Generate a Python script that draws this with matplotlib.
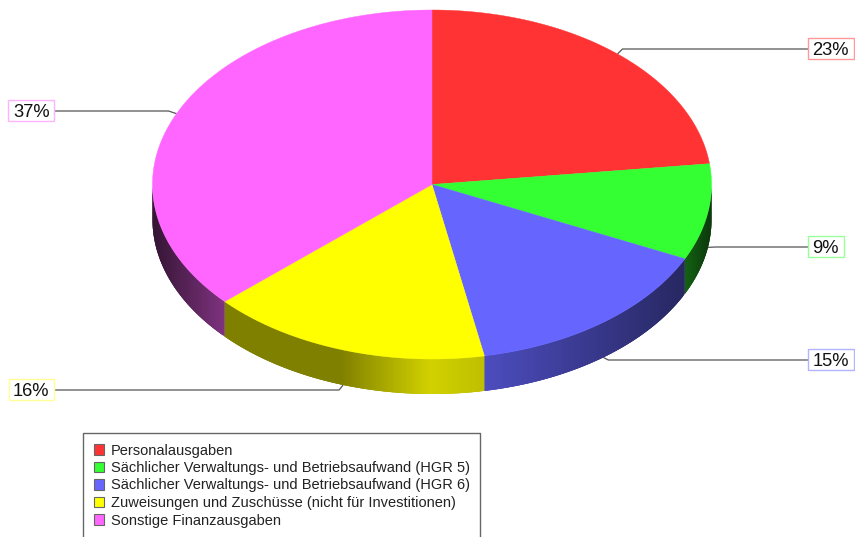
import numpy as np
import matplotlib
matplotlib.use('Agg')
import matplotlib.pyplot as plt
from matplotlib.patches import Patch, Polygon, Rectangle

plt.rcParams['font.family'] = ['Liberation Sans', 'DejaVu Sans']

categories = ['Personalausgaben',
              'Sächlicher Verwaltungs- und Betriebsaufwand (HGR 5)',
              'Sächlicher Verwaltungs- und Betriebsaufwand (HGR 6)',
              'Zuweisungen und Zuschüsse (nicht für Investitionen)',
              'Sonstige Finanzausgaben']
values = [23.1, 8.9, 15.0, 16.3, 36.7]
colors = ['#ff3333', '#33ff33', '#6666ff', '#ffff00', '#ff66ff']
border_colors = ['#ff9999', '#99ff99', '#b3b3ff', '#ffff99', '#ffb3ff']

# pie geometry in pixels
cx, cy = 432, 184.5
rx, ry = 279.5, 174.5
depth = 35

# label box anchor (side of box nearest the pie), y of leader line
label_x = [808, 808, 808, 54, 54]
label_y = [49, 247, 360, 390, 111]
elbow_dx = [5, 8, 5, -4, -8]

# wall shading against pixel x
shade_x = [152, 225, 340, 430, 484, 686, 711]
shade_f = [0.2, 0.5, 0.5, 0.82, 0.75, 0.38, 0.22]


def px(a):
    return cx + rx * np.sin(a)


def py(a):
    return cy - ry * np.cos(a)


fig = plt.figure(figsize=(8.55, 5.37), dpi=100)
ax = fig.add_axes([0, 0, 1, 1])
ax.set_xlim(0, 855)
ax.set_ylim(537, 0)
ax.axis('off')

edges = np.cumsum([0] + values) / sum(values) * 2 * np.pi

# side wall, only the front half of the ellipse shows
for i in range(len(values)):
    lo = max(edges[i], np.pi / 2)
    hi = min(edges[i + 1], 3 * np.pi / 2)
    if hi <= lo:
        continue
    t = np.linspace(lo, hi, int((hi - lo) * 120) + 2)
    step = t[1] - t[0]
    base = np.array(matplotlib.colors.to_rgb(colors[i]))
    for a in t[:-1]:
        b = min(a + 3 * step, hi)  # overlap the next strips so no seams show
        f = np.interp(px(a + step / 2), shade_x, shade_f)
        s = np.linspace(a, b, 5)
        pts = np.column_stack([np.r_[px(s), px(s[::-1])],
                               np.r_[py(s), py(s[::-1]) + depth]])
        ax.add_patch(Polygon(pts, closed=True, fc=base * f, ec='none', zorder=2))

# top face
for i in range(len(values)):
    t = np.linspace(edges[i], edges[i + 1], 200)
    pts = np.column_stack([np.r_[cx, px(t)], np.r_[cy, py(t)]])
    ax.add_patch(Polygon(pts, closed=True, fc=colors[i], ec=colors[i], lw=0.3, zorder=3))

# leader lines and percent labels
fig.canvas.draw()
renderer = fig.canvas.get_renderer()
mids = (edges[:-1] + edges[1:]) / 2
for i, v in enumerate(values):
    x0, y0 = px(mids[i]), py(mids[i])
    if np.pi / 2 < mids[i] < 3 * np.pi / 2:
        y0 += depth
    ax.plot([x0, x0 + elbow_dx[i], label_x[i]], [y0, label_y[i], label_y[i]],
            color='#555555', lw=0.9, zorder=1, solid_capstyle='butt')
    left = label_x[i] > cx
    txt = ax.text(label_x[i] + (4.5 if left else -4.5), label_y[i] - 0.5, '%d%%' % round(v),
                  ha='left' if left else 'right', va='center_baseline', fontsize=13.2,
                  color='#111111', zorder=6)
    w = txt.get_window_extent(renderer).width + 9
    box_x = label_x[i] if left else label_x[i] - w
    ax.add_patch(Rectangle((box_x, label_y[i] - 11), w, 21, fc='white',
                           ec=border_colors[i], lw=1.0, zorder=5))

handles = [Patch(fc=c, ec='#666666', lw=0.8) for c in colors]
leg = ax.legend(handles, categories, loc='upper left', bbox_to_anchor=(83, 433),
                bbox_transform=ax.transData, fontsize=10.5, frameon=True, fancybox=False,
                edgecolor='#666666', framealpha=1, labelspacing=0.24, handlelength=0.72,
                handleheight=0.72, handletextpad=0.45, borderpad=0.72, borderaxespad=0)
leg.get_frame().set_linewidth(1.0)
for t in leg.get_texts():
    t.set_color('#222222')

fig.savefig('out.png', dpi=100)
